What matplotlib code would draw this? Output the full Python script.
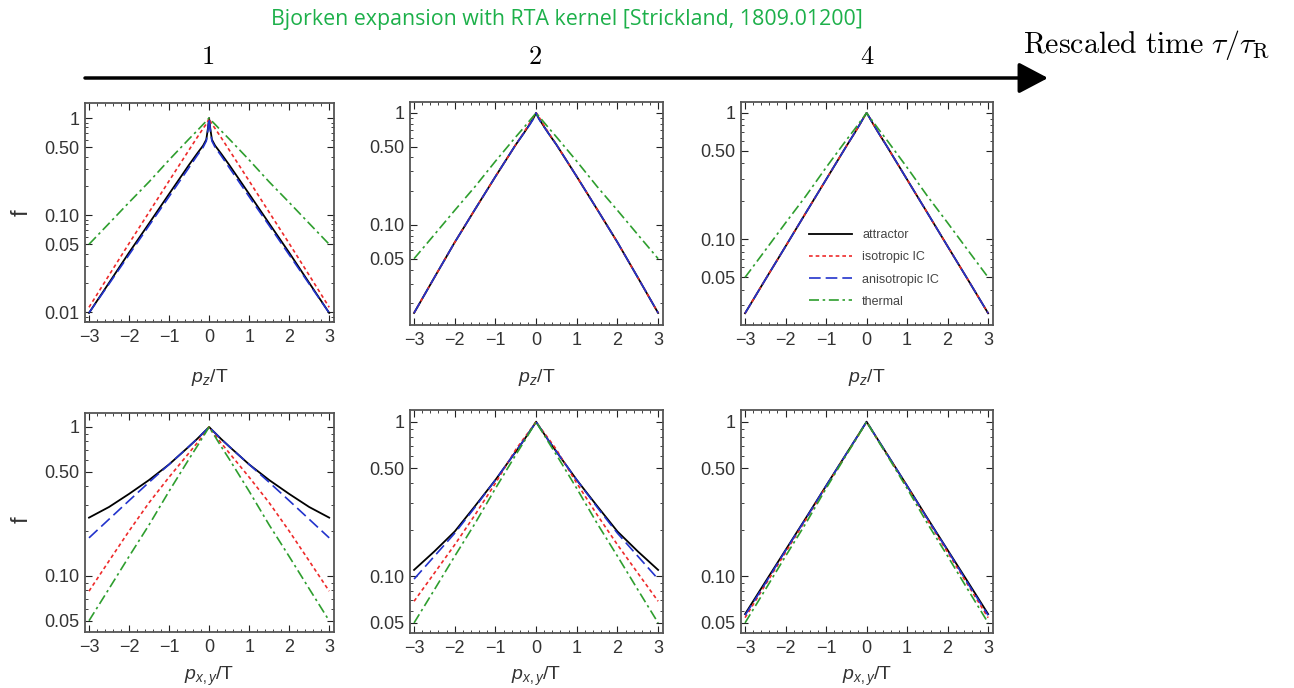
import numpy as np
import matplotlib.pyplot as plt
from matplotlib.ticker import MultipleLocator, LogLocator, NullFormatter

plt.rcParams['font.family'] = ['Liberation Sans', 'DejaVu Sans']
plt.rcParams['mathtext.fontset'] = 'custom'
plt.rcParams['mathtext.rm'] = 'Liberation Sans'
plt.rcParams['mathtext.it'] = 'Liberation Sans:italic'

# momentum values p/T >= 0 (all curves are symmetric in p)
p_half = [0, 0.03, 0.07, 0.15, 0.3, 0.5, 1, 1.5, 2, 2.5, 3]

times = ["1", "2", "4"]
labels = ["attractor", "isotropic IC", "anisotropic IC", "thermal"]

thermal = [1.0, 0.97, 0.93, 0.86, 0.74, 0.61, 0.37, 0.22, 0.135, 0.082, 0.05]

# top row: f vs p_z/T
pz1_attr = [1.0, 0.78, 0.60, 0.52, 0.43, 0.33, 0.165, 0.082, 0.041, 0.020, 0.0098]
pz1_iso = [1.0, 0.93, 0.87, 0.78, 0.63, 0.47, 0.225, 0.107, 0.051, 0.024, 0.0112]
pz1_aniso = [1.0, 0.75, 0.58, 0.50, 0.41, 0.31, 0.155, 0.078, 0.039, 0.0195, 0.0098]

pz2_attr = [1.0, 0.95, 0.89, 0.80, 0.66, 0.52, 0.27, 0.138, 0.070, 0.034, 0.0164]
pz2_iso = [1.0, 0.97, 0.92, 0.82, 0.67, 0.52, 0.27, 0.138, 0.070, 0.034, 0.0164]
pz2_aniso = [1.0, 0.94, 0.88, 0.79, 0.66, 0.52, 0.27, 0.138, 0.070, 0.034, 0.0164]

pz4_attr = [1.0, 0.965, 0.92, 0.83, 0.69, 0.545, 0.297, 0.162, 0.088, 0.048, 0.026]
pz4_iso = [1.0, 0.965, 0.92, 0.83, 0.69, 0.545, 0.297, 0.162, 0.088, 0.048, 0.026]
pz4_aniso = [1.0, 0.965, 0.92, 0.83, 0.69, 0.545, 0.297, 0.162, 0.088, 0.048, 0.026]

# bottom row: f vs p_xy/T
pxy1_attr = [1.0, 0.98, 0.955, 0.91, 0.83, 0.74, 0.56, 0.44, 0.355, 0.29, 0.246]
pxy1_iso = [1.0, 0.975, 0.94, 0.88, 0.78, 0.67, 0.46, 0.31, 0.20, 0.126, 0.079]
pxy1_aniso = [1.0, 0.98, 0.955, 0.91, 0.83, 0.74, 0.56, 0.425, 0.32, 0.24, 0.18]

pxy2_attr = [1.0, 0.97, 0.935, 0.87, 0.76, 0.64, 0.42, 0.285, 0.195, 0.145, 0.11]
pxy2_iso = [1.0, 0.975, 0.94, 0.88, 0.78, 0.66, 0.40, 0.25, 0.16, 0.105, 0.069]
pxy2_aniso = [1.0, 0.97, 0.935, 0.87, 0.76, 0.64, 0.42, 0.28, 0.19, 0.135, 0.096]

pxy4_attr = [1.0, 0.97, 0.935, 0.865, 0.75, 0.62, 0.385, 0.238, 0.148, 0.092, 0.057]
pxy4_iso = [1.0, 0.97, 0.93, 0.86, 0.745, 0.615, 0.38, 0.232, 0.143, 0.088, 0.054]
pxy4_aniso = [1.0, 0.97, 0.935, 0.865, 0.75, 0.62, 0.384, 0.236, 0.147, 0.090, 0.056]

top_rows = [(pz1_attr, pz1_iso, pz1_aniso), (pz2_attr, pz2_iso, pz2_aniso),
            (pz4_attr, pz4_iso, pz4_aniso)]
bot_rows = [(pxy1_attr, pxy1_iso, pxy1_aniso), (pxy2_attr, pxy2_iso, pxy2_aniso),
            (pxy4_attr, pxy4_iso, pxy4_aniso)]

top_yticks = [[1, 0.5, 0.1, 0.05, 0.01], [1, 0.5, 0.1, 0.05], [1, 0.5, 0.1, 0.05]]
top_ylims = [(0.0079, 1.43), (0.0128, 1.25), (0.021, 1.22)]
bot_yticks = [[1, 0.5, 0.1, 0.05]] * 3
bot_ylims = [(0.042, 1.24), (0.043, 1.19), (0.043, 1.19)]

# axes boxes in pixels: left, right, top, bottom
top_boxes = [(85, 334, 103, 322), (410, 663, 102, 325), (741, 993, 102, 325)]
bot_boxes = [(85, 334, 413, 632), (410, 663, 410, 633), (741, 993, 410, 633)]

W, H = 1294, 688
styles = [dict(color='black', ls='-', lw=1.3),
          dict(color='#ee2a2a', ls=(0, (2.2, 1.8)), lw=1.2),
          dict(color='#2233cc', ls=(0, (7, 3)), lw=1.2),
          dict(color='#2e9e2e', ls=(0, (6, 2.2, 1.5, 2.2)), lw=1.2)]


def mirror(vals):
    vals = np.asarray(vals, dtype=float)
    return np.concatenate([vals[:0:-1], vals])


p = np.concatenate([-np.asarray(p_half)[:0:-1], p_half])

fig = plt.figure(figsize=(W / 100, H / 100), dpi=100)


def make_axes(box):
    l, r, t, b = box
    return fig.add_axes([l / W, 1 - b / H, (r - l) / W, (b - t) / H])


def style_axes(ax, yticks, ylim):
    ax.set_yscale('log')
    ax.set_xlim(-3.1, 3.12)
    ax.set_ylim(*ylim)
    ax.xaxis.set_major_locator(MultipleLocator(1))
    ax.xaxis.set_minor_locator(MultipleLocator(0.2))
    ax.set_yticks(yticks)
    ax.set_yticklabels(['1' if v == 1 else f'{v:.2f}' for v in yticks])
    ax.yaxis.set_minor_locator(LogLocator(subs=np.arange(2, 10)))
    ax.yaxis.set_minor_formatter(NullFormatter())
    ax.tick_params(which='both', direction='in', top=True, right=True,
                   colors='#222', labelcolor='#333', labelsize=13)
    ax.tick_params(which='major', length=5, width=0.8)
    ax.tick_params(which='minor', length=2.5, width=0.6)
    ax.tick_params(axis='x', pad=5)
    ax.tick_params(axis='y', pad=4)
    for s in ax.spines.values():
        s.set_color('#555')
        s.set_linewidth(1.3)


for row, (curves_set, yticks_set, ylims, boxes, xlab, ylab_y) in enumerate([
        (top_rows, top_yticks, top_ylims, top_boxes, r'$p_z$/T', 377),
        (bot_rows, bot_yticks, bot_ylims, bot_boxes, r'$p_{x,y}$/T', 676)]):
    for k in range(3):
        ax = make_axes(boxes[k])
        attr, iso, aniso = curves_set[k]
        for vals, st, lab in zip([attr, iso, aniso, thermal], styles, labels):
            ax.plot(p, mirror(vals), label=lab, **st)
        style_axes(ax, yticks_set[k], ylims[k])
        l, r, t, b = boxes[k]
        fig.text((l + r) / 2 / W, 1 - ylab_y / H, xlab, ha='center', va='center',
                 fontsize=14, color='#333')
        if row == 0 and k == 2:
            ax.legend(loc='upper left', bbox_to_anchor=(0.27, 0.43), frameon=False,
                      fontsize=9, handlelength=3.4, handletextpad=0.85,
                      labelspacing=0.82, borderpad=0, borderaxespad=0,
                      labelcolor='#444')

fig.text(22 / W, 1 - 213 / H, 'f', rotation=90, ha='center', va='center',
         fontsize=17, color='#333')
fig.text(22 / W, 1 - 520 / H, 'f', rotation=90, ha='center', va='center',
         fontsize=17, color='#333')

# header: title, time arrow and labels
fig.text(567 / W, 1 - 20 / H, 'Bjorken expansion with RTA kernel [Strickland, 1809.01200]',
         ha='center', va='center', fontsize=15.4, color='#1db04a',
         family=['Open Sans', 'DejaVu Sans'])
plt.annotate('', xy=(1048, H - 78), xytext=(85, H - 78), xycoords='figure pixels',
             arrowprops=dict(arrowstyle='-|>,head_length=1.8,head_width=0.95',
                             lw=2.5, color='black', shrinkA=0, shrinkB=0))
for t, xpos in zip(times, [208, 535, 867]):
    fig.text(xpos / W, 1 - 57 / H, '$' + t + '$', ha='center', va='center',
             fontsize=19, math_fontfamily='cm')
fig.text(1023 / W, 1 - 45 / H, r'$\mathrm{Rescaled\ time}\ \tau/\tau_{\mathrm{R}}$',
         ha='left', va='center', fontsize=21.5, math_fontfamily='cm')

fig.savefig('out.png', dpi=100)
